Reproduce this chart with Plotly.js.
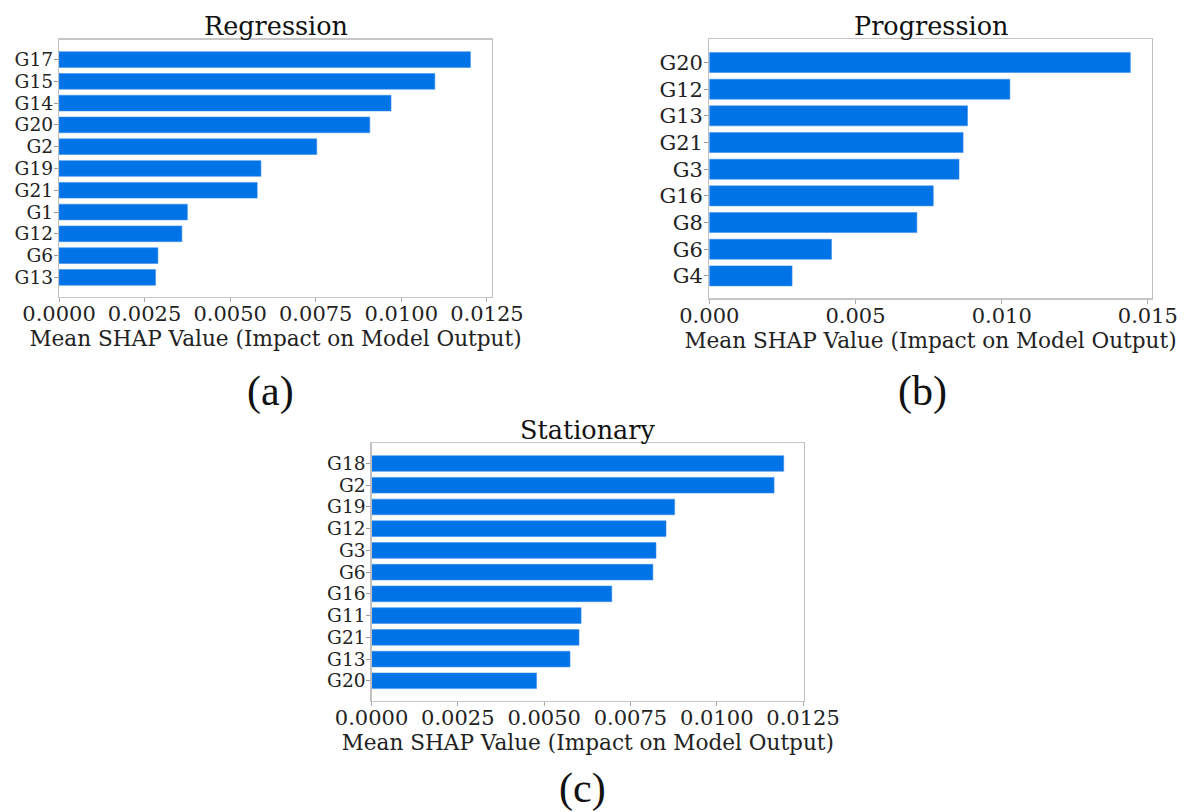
<!DOCTYPE html>
<html>
<head>
<meta charset="utf-8">
<script src="https://cdn.plot.ly/plotly-3.0.1.min.js"></script>
<style>
  html, body { margin: 0; padding: 0; background: #ffffff; }
  #chart { width: 1184px; height: 812px; }
</style>
</head>
<body>
<div id="chart"></div>
<script>
// Feature names, listed top to bottom, and their mean |SHAP| values
const regressionFeatures = ['G17', 'G15', 'G14', 'G20', 'G2', 'G19', 'G21', 'G1', 'G12', 'G6', 'G13'];
const regressionValues   = [0.01202, 0.01098, 0.00970, 0.00908, 0.00753, 0.00590, 0.00579, 0.00375, 0.00359, 0.00289, 0.00282];

const progressionFeatures = ['G20', 'G12', 'G13', 'G21', 'G3', 'G16', 'G8', 'G6', 'G4'];
const progressionValues   = [0.01440, 0.01028, 0.00883, 0.00868, 0.00854, 0.00766, 0.00710, 0.00418, 0.00283];

const stationaryFeatures = ['G18', 'G2', 'G19', 'G12', 'G3', 'G6', 'G16', 'G11', 'G21', 'G13', 'G20'];
const stationaryValues   = [0.01194, 0.01166, 0.00878, 0.00853, 0.00824, 0.00815, 0.00696, 0.00607, 0.00601, 0.00575, 0.00478];

const panelTitles = ['Regression', 'Progression', 'Stationary'];
const panelTags = ['(a)', '(b)', '(c)'];
const xAxisLabel = 'Mean SHAP Value (Impact on Model Output)';
const ticksA = [0, 0.0025, 0.005, 0.0075, 0.01, 0.0125];
const ticksB = [0, 0.005, 0.01, 0.015];
const ticksC = [0, 0.0025, 0.005, 0.0075, 0.01, 0.0125];

const W = 1184, H = 812;
const BAR = '#0073E6';
const SERIF = 'DejaVu Serif, serif';
const TAGFONT = "'Liberation Serif', 'Times New Roman', serif";

// pixel helpers -> paper fractions
const px = v => v / W;
const py = v => 1 - v / H;

function barTrace(names, values, xa, ya, width) {
  return {
    type: 'bar', orientation: 'h',
    x: values, y: names,
    xaxis: xa, yaxis: ya,
    width: width,
    marker: { color: BAR, line: { width: 0.6, color: '#3d8ff0' } },
    hoverinfo: 'x+y', showlegend: false
  };
}

function xAxis(domain, range, ticks, fmt, anchor) {
  return {
    domain: domain, range: range, anchor: anchor,
    tickvals: ticks, ticktext: ticks.map(fmt),
    ticks: 'outside', ticklen: 4, tickwidth: 1, tickcolor: '#aaaaaa',
    showgrid: false, zeroline: false,
    showline: true, linecolor: '#c6c6c6', linewidth: 1.2, mirror: true,
    tickfont: { family: SERIF, size: 21, color: '#222222' },
    ticklabelstandoff: -6,
    title: { text: xAxisLabel, font: { family: SERIF, size: 21.6, color: '#222222' }, standoff: 0 },
    fixedrange: true
  };
}

// tight rows (11 features) get a slightly smaller label font so labels stay apart
function yAxis(domain, range, names, anchor, fontSize) {
  return {
    domain: domain, range: range, anchor: anchor, type: 'category',
    tickmode: 'array', tickvals: names, ticktext: names,
    ticks: 'outside', ticklen: 4, tickwidth: 1, tickcolor: '#999999',
    showgrid: false, zeroline: false,
    showline: true, linecolor: '#c0c0c0', linewidth: 1.2, mirror: true,
    tickfont: { family: SERIF, size: fontSize, color: '#222222' },
    ticklabelstandoff: -3,
    fixedrange: true
  };
}

const fmt4 = v => v.toFixed(4);
const fmt3 = v => v.toFixed(3);

// plot-area boxes in pixels: [left, right, top, bottom]
const boxA = [59, 492, 39.5, 297];
const boxB = [709.3, 1151.7, 39.3, 298.3];
const boxC = [371.5, 804.1, 443.3, 701];

const data = [
  barTrace(regressionFeatures, regressionValues, 'x', 'y', 0.72),
  barTrace(progressionFeatures, progressionValues, 'x2', 'y2', 0.75),
  barTrace(stationaryFeatures, stationaryValues, 'x3', 'y3', 0.72)
];

const dom = b => ({ x: [px(b[0]), px(b[1])], y: [py(b[3]), py(b[2])] });
const dA = dom(boxA), dB = dom(boxB), dC = dom(boxC);

function titleNote(text, box) {
  return {
    text: text, xref: 'paper', yref: 'paper',
    x: px((box[0] + box[1]) / 2), y: py(box[2] + 3.5),
    xanchor: 'center', yanchor: 'bottom', showarrow: false,
    font: { family: SERIF, size: 25.5, color: '#111111' }
  };
}
function tagNote(text, cx, cy) {
  return {
    text: text, xref: 'paper', yref: 'paper',
    x: px(cx), y: py(cy), xanchor: 'center', yanchor: 'middle', showarrow: false,
    font: { family: TAGFONT, size: 42, color: '#111111' }
  };
}

const layout = {
  width: W, height: H,
  margin: { l: 0, r: 0, t: 0, b: 0 },
  paper_bgcolor: '#ffffff', plot_bgcolor: '#ffffff',
  bargap: 0,
  xaxis:  xAxis(dA.x, [0, 0.01265], ticksA, fmt4, 'y'),
  yaxis:  yAxis(dA.y, [10.9, -0.92], regressionFeatures, 'x', 18.6),
  xaxis2: xAxis(dB.x, [0, 0.01513], ticksB, fmt3, 'y2'),
  yaxis2: yAxis(dB.y, [8.84, -0.87], progressionFeatures, 'x2', 21),
  xaxis3: xAxis(dC.x, [0, 0.01253], ticksC, fmt4, 'y3'),
  yaxis3: yAxis(dC.y, [10.93, -0.93], stationaryFeatures, 'x3', 18.6),
  annotations: [
    titleNote(panelTitles[0], boxA),
    titleNote(panelTitles[1], boxB),
    titleNote(panelTitles[2], boxC),
    tagNote(panelTags[0], 270, 391),
    tagNote(panelTags[1], 922, 391),
    tagNote(panelTags[2], 582, 788)
  ]
};

Plotly.newPlot('chart', data, layout, { displayModeBar: false, staticPlot: true });
</script>
</body>
</html>
